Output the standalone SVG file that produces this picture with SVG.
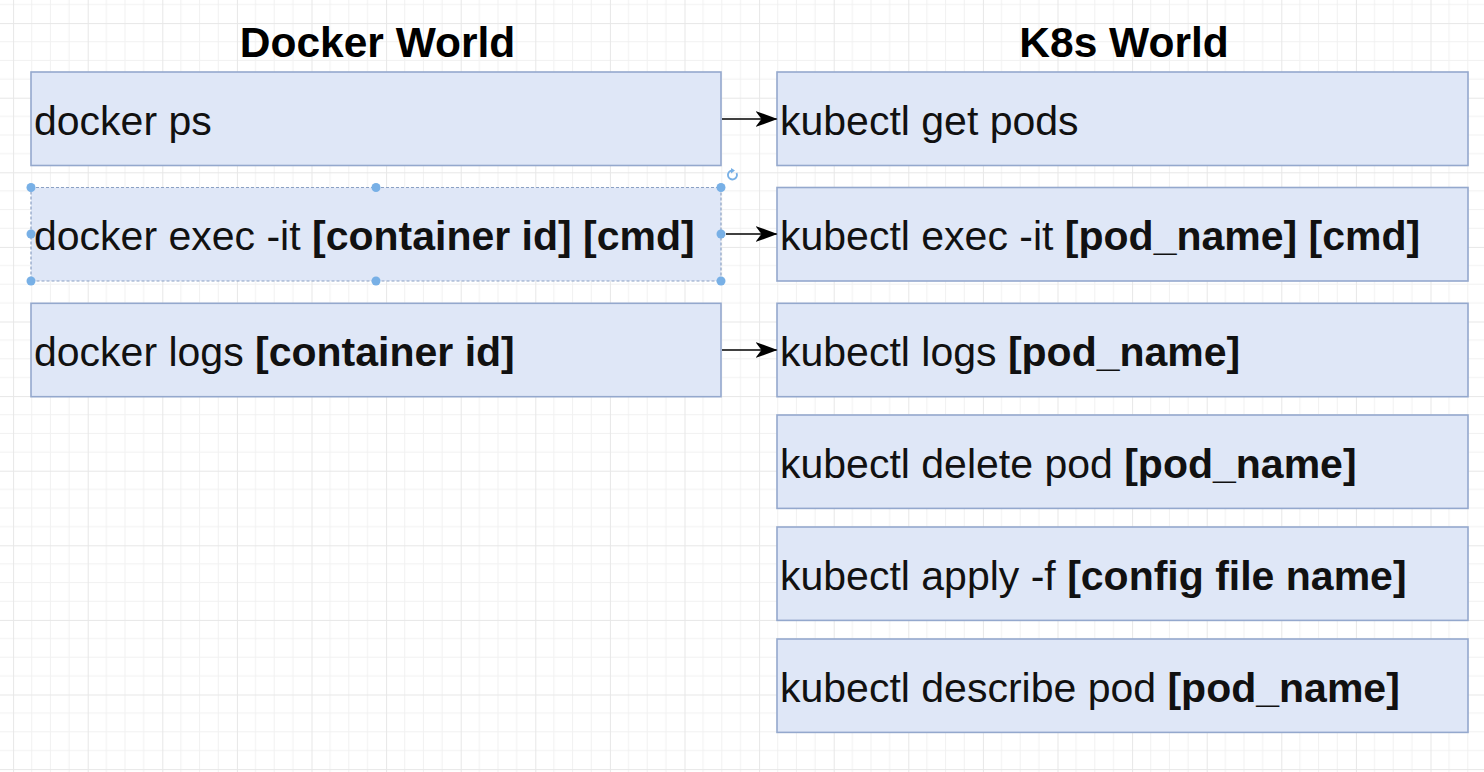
<svg xmlns="http://www.w3.org/2000/svg" width="1484" height="772" viewBox="0 0 1484 772">
  <defs>
    <pattern id="grid" patternUnits="userSpaceOnUse" x="13.1" y="23.1" width="74.6" height="74.6">
      <path d="M18.65 0V74.6M37.3 0V74.6M55.95 0V74.6M0 18.65H74.6M0 37.3H74.6M0 55.95H74.6" stroke="#f1f1f1" stroke-width="1" fill="none"/>
      <path d="M0.5 0V74.6M0 0.5H74.6" stroke="#e7e7e7" stroke-width="1" fill="none"/>
    </pattern>
    <marker id="arrow" viewBox="0 0 22 16" refX="21" refY="8" markerWidth="22" markerHeight="16" markerUnits="userSpaceOnUse" orient="auto">
      <path d="M0 0 L22 8 L0 16 L6 8 Z" fill="#000"/>
    </marker>
    <style>
      .box { fill: #dfe7f7; stroke: #94a8cd; stroke-width: 1.6; }
      .sel { fill: #dfe7f7; stroke: #8aa0c4; stroke-width: 1.2; stroke-dasharray: 3 2; }
      .t { font-family: "Liberation Sans", Arial, sans-serif; font-size: 41px; fill: #111; }
      .b { font-weight: bold; }
      .title { font-family: "Liberation Sans", Arial, sans-serif; font-size: 42.5px; font-weight: bold; fill: #000; text-anchor: middle; }
      .edge { stroke: #000; stroke-width: 1.6; fill: none; marker-end: url(#arrow); }
      .h { fill: #78b0e6; }
    </style>
  </defs>
  <rect width="1484" height="772" fill="#ffffff"/>
  <rect width="1484" height="772" fill="url(#grid)"/>

  <text class="title" x="377.5" y="57">Docker World</text>
  <text class="title" x="1124" y="57">K8s World</text>

  <g id="docker-ps">
    <rect class="box" x="31" y="72" width="690" height="93.5"/>
    <text class="t" x="34" y="135">docker ps</text>
  </g>
  <g id="docker-exec">
    <rect class="sel" x="31" y="187.5" width="690" height="93.5"/>
    <text class="t" x="34" y="250">docker exec -it <tspan class="b">[container id] [cmd]</tspan></text>
    <g class="h">
      <circle cx="31" cy="187.5" r="4.5"/>
      <circle cx="376" cy="187.5" r="4.5"/>
      <circle cx="721" cy="187.5" r="4.5"/>
      <circle cx="31" cy="234" r="4.5"/>
      <circle cx="721" cy="234" r="4.5"/>
      <circle cx="31" cy="281" r="4.5"/>
      <circle cx="376" cy="281" r="4.5"/>
      <circle cx="721" cy="281" r="4.5"/>
    </g>
    <path d="M736.5 173 A4.5 4.5 0 1 1 732 170.5" fill="none" stroke="#78b0e6" stroke-width="1.8"/>
    <path d="M731 168 L735 170.5 L731 173.5 Z" fill="#78b0e6"/>
  </g>
  <g id="docker-logs">
    <rect class="box" x="31" y="303.3" width="690" height="93.4"/>
    <text class="t" x="34" y="366">docker logs <tspan class="b">[container id]</tspan></text>
  </g>

  <g id="k8s-get-pods">
    <rect class="box" x="777" y="72" width="691" height="93.5"/>
    <text class="t" x="780" y="135">kubectl get pods</text>
  </g>
  <g id="k8s-exec">
    <rect class="box" x="777" y="187.5" width="691" height="93.5"/>
    <text class="t" x="780" y="250">kubectl exec -it <tspan class="b">[pod_name] [cmd]</tspan></text>
  </g>
  <g id="k8s-logs">
    <rect class="box" x="777" y="303.3" width="691" height="93.4"/>
    <text class="t" x="780" y="366">kubectl logs <tspan class="b">[pod_name]</tspan></text>
  </g>
  <g id="k8s-delete">
    <rect class="box" x="777" y="415" width="691" height="93.4"/>
    <text class="t" x="780" y="477.5">kubectl delete pod <tspan class="b">[pod_name]</tspan></text>
  </g>
  <g id="k8s-apply">
    <rect class="box" x="777" y="527" width="691" height="93.4"/>
    <text class="t" x="780" y="589.5">kubectl apply -f <tspan class="b">[config file name]</tspan></text>
  </g>
  <g id="k8s-describe">
    <rect class="box" x="777" y="639" width="691" height="93.4"/>
    <text class="t" x="780" y="701.5">kubectl describe pod <tspan class="b">[pod_name]</tspan></text>
  </g>

  <g id="connectors">
    <path class="edge" d="M722 119 H776.5"/>
    <path class="edge" d="M726 234 H776.5"/>
    <path class="edge" d="M722 350 H776.5"/>
  </g>
</svg>
